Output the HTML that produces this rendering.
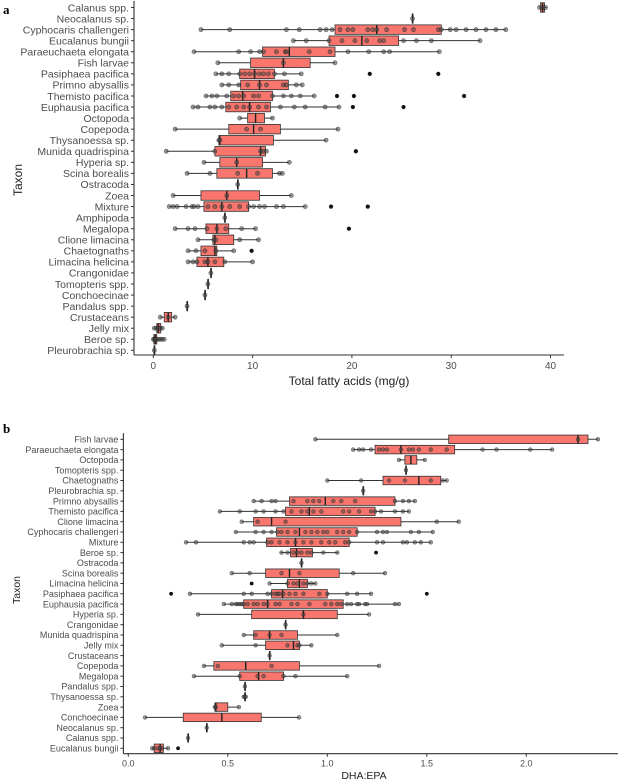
<!DOCTYPE html>
<html><head><meta charset="utf-8">
<style>
html,body{margin:0;padding:0;background:#fff;}
svg{display:block;font-family:"Liberation Sans",Arial,sans-serif;}
</style></head>
<body>
<svg id="chart" width="618" height="781" viewBox="0 0 618 781" xmlns="http://www.w3.org/2000/svg">
<text x="3" y="14" font-family="Liberation Serif" font-weight="bold" font-size="13">a</text>
<text x="3" y="433" font-family="Liberation Serif" font-weight="bold" font-size="13">b</text>
<g id="pa"></g>
<g id="pb"></g>
</svg>
<script>
// ---------- Panel A data (Total fatty acids mg/g) ----------
const namesA=["Calanus spp.","Neocalanus sp.","Cyphocaris challengeri","Eucalanus bungii","Paraeuchaeta elongata","Fish larvae","Pasiphaea pacifica","Primno abysallis","Themisto pacifica","Euphausia pacifica","Octopoda","Copepoda","Thysanoessa sp.","Munida quadrispina","Hyperia sp.","Scina borealis","Ostracoda","Zoea","Mixture","Amphipoda","Megalopa","Clione limacina","Chaetognaths","Limacina helicina","Crangonidae","Tomopteris spp.","Conchoecinae","Pandalus spp.","Crustaceans","Jelly mix","Beroe sp.","Pleurobrachia sp."];
const loA=[38.9,26.1,4.8,14.1,4.1,6.5,6.3,6.9,5.3,4.0,8.7,2.2,6.6,1.3,5.1,3.4,8.5,2.0,1.6,7.2,2.2,4.5,3.5,3.5,5.8,5.5,5.2,3.4,0.7,0.1,0,0.1];
const q1A=[39.0,26.1,18.3,17.7,11.0,9.8,8.7,8.8,7.8,7.3,9.5,7.6,6.6,6.2,6.7,6.4,8.5,4.8,5.1,7.2,5.3,6.0,4.8,4.4,5.8,5.5,5.2,3.4,1.1,0.35,0.05,0.1];
const medA=[39.2,26.1,22.5,21.0,13.7,13.1,10.2,10.7,9.0,9.7,10.3,10.1,6.7,10.8,8.4,9.4,8.5,7.4,6.9,7.2,6.4,6.2,6.2,5.5,5.8,5.5,5.2,3.4,1.5,0.5,0.2,0.1];
const q3A=[39.4,26.1,29.0,24.7,18.3,15.8,12.2,13.6,12.0,11.8,11.2,12.8,12.1,11.3,11.0,12.0,8.5,10.7,9.6,7.2,7.6,8.1,6.4,7.1,5.8,5.5,5.2,3.4,1.85,0.75,0.35,0.1];
const hiA=[39.6,26.1,35.5,32.9,28.8,18.3,14.9,15.0,16.2,18.7,12.0,18.6,17.4,11.4,13.7,13.0,8.5,13.9,15.3,7.2,10.3,10.6,8.1,10.0,5.8,5.5,5.2,3.4,2.2,0.95,1.1,0.1];
const ptsA=[[38.9,39.2,39.5],[26.1],[4.8,7.7,13.4,14.7,16.8,17.4,18,18.8,19.6,20.1,21.6,22.1,22.5,23.5,25.3,26.2,28.7,29,29.9,30.5,31.5,32.5,33.5,34.5,35.5],[14.1,15.4,17.7,19,20.3,21.5,22.8,23.2,25.2,26.5,28.0,32.9],[4.1,8.6,9.8,10.7,11.1,12.4,13.3,13.4,15.7,17.8,19.6,21.7,23.2,23.8,28.8],[6.5,13.1,18.3],[6.3,6.9,7.6,8.7,9.2,9.7,10.2,10.7,11.1,11.6,12.2,13.2,14.9],[6.9,7.6,8.6,9.5,10.7,11.4,13.1,13.4,14.4,15.0],[5.3,5.9,6.4,7.4,8.1,8.6,9.1,10.1,10.6,12.0,13.1,13.9,14.8,16.2],[4.0,4.5,5.7,6.2,6.9,7.6,8.4,9.1,9.7,10.6,11.4,12.8,14.2,15.3,17.3,18.7],[8.7,12.0],[2.2,9.4,10.8,18.6],[6.6,6.7,17.4],[1.3,6.2,10.8,11.1,11.4],[5.1,8.4,13.7],[3.4,5.7,8.5,10.5,12.7,13.0],[8.5],[2.0,7.4,13.9],[1.6,2.0,2.4,3.3,3.9,4.1,4.5,5.5,6.2,6.9,7.7,8.7,9.6,10.1,10.7,11.2,12.4,13.1,15.3],[7.2],[2.2,3.5,4.2,5.4,6.4,7.3,8.9,10.3],[4.5,6.1,6.3,8.7,10.6],[3.5,4.3,5.2,6.3,8.1],[3.5,4.0,4.4,5.2,5.5,6.2,7.2,10.0],[5.8],[5.5],[5.2],[3.4],[0.7,1.5,2.2],[0.1,0.3,0.5,0.7,0.9],[0,0.1,0.2,0.3,0.5,0.7,0.9,1.1],[0.1]];
const outA=[[],[],[],[],[],[],[21.8,28.7],[],[18.5,20.2,31.3],[20.1,25.2],[],[],[],[20.4],[],[],[],[],[17.9,21.6],[],[19.7],[],[9.9],[],[],[],[],[],[],[],[],[]];
const ticksA=[0,10,20,30,40];

// ---------- Panel B data (DHA:EPA) ----------
const namesB=["Fish larvae","Paraeuchaeta elongata","Octopoda","Tomopteris spp.","Chaetognaths","Pleurobrachia sp.","Primno abysallis","Themisto pacifica","Clione limacina","Cyphocaris challengeri","Mixture","Beroe sp.","Ostracoda","Scina borealis","Limacina helicina","Pasiphaea pacifica","Euphausia pacifica","Hyperia sp.","Crangonidae","Munida quadrispina","Jelly mix","Crustaceans","Copepoda","Megalopa","Pandalus spp.","Thysanoessa sp.","Zoea","Conchoecinae","Neocalanus sp.","Calanus spp.","Eucalanus bungii"];
const loB=[0.94,1.13,1.36,1.395,1.0,1.18,0.63,0.46,0.57,0.54,0.29,0.765,0.87,0.52,0.71,0.31,0.48,0.35,0.79,0.58,0.47,0.71,0.38,0.33,0.586,0.586,0.435,0.084,0.394,0.30,0.12];
const q1B=[1.61,1.24,1.39,1.395,1.28,1.18,0.81,0.79,0.63,0.745,0.695,0.815,0.87,0.69,0.80,0.72,0.58,0.62,0.79,0.63,0.69,0.71,0.43,0.56,0.586,0.586,0.435,0.276,0.394,0.30,0.13];
const medB=[2.26,1.37,1.42,1.395,1.46,1.18,0.99,0.91,0.72,0.86,0.84,0.845,0.87,0.81,0.86,0.775,0.70,0.88,0.79,0.71,0.83,0.71,0.59,0.655,0.586,0.586,0.44,0.47,0.394,0.30,0.16];
const q3B=[2.31,1.64,1.45,1.395,1.57,1.18,1.34,1.24,1.37,1.15,1.11,0.925,0.87,1.06,0.90,1.0,1.08,1.05,0.79,0.85,0.86,0.71,0.86,0.78,0.586,0.586,0.50,0.668,0.394,0.30,0.176];
const hiB=[2.36,2.13,1.49,1.395,1.60,1.18,1.44,1.41,1.66,1.53,1.52,1.055,0.87,1.29,0.94,1.22,1.36,1.21,0.79,1.05,0.92,0.71,1.26,1.10,0.586,0.586,0.556,0.858,0.394,0.30,0.2];
const ptsB=[[0.94,2.26,2.36],[1.13,1.16,1.18,1.22,1.26,1.28,1.30,1.37,1.41,1.43,1.46,1.52,1.60,1.78,1.85,2.02,2.13],[1.36,1.49],[1.395],[1.0,1.17,1.31,1.39,1.52,1.58,1.60],[1.18],[0.63,0.67,0.72,0.74,0.83,0.90,0.93,0.96,1.03,1.07,1.14,1.34,1.38,1.41,1.44],[0.46,0.56,0.64,0.68,0.74,0.78,0.82,0.87,0.90,0.93,0.97,1.08,1.11,1.16,1.22,1.24,1.27,1.34,1.38,1.41],[0.57,0.65,0.79,1.55,1.66],[0.54,0.64,0.68,0.72,0.75,0.77,0.80,0.84,0.89,0.92,0.95,0.98,1.0,1.05,1.08,1.11,1.15,1.25,1.28,1.30,1.42,1.46,1.53],[0.29,0.34,0.58,0.61,0.63,0.70,0.72,0.76,0.80,0.84,0.88,0.92,0.97,1.01,1.04,1.09,1.11,1.25,1.28,1.38,1.40,1.44,1.47,1.52],[0.77,0.80,0.83,0.85,0.87,0.90,0.92,0.98,1.05],[0.87],[0.52,0.61,0.77,0.86,1.13,1.29],[0.71,0.80,0.83,0.85,0.88,0.90,0.92,0.94],[0.31,0.58,0.62,0.70,0.72,0.74,0.75,0.76,0.78,0.81,0.84,0.88,0.96,1.0,1.10,1.15,1.22],[0.48,0.52,0.54,0.55,0.56,0.57,0.58,0.60,0.63,0.65,0.68,0.70,0.74,0.76,0.82,0.85,0.91,0.99,1.02,1.05,1.07,1.10,1.12,1.15,1.16,1.19,1.20,1.34,1.36],[0.35,0.88,1.21],[0.79],[0.58,0.64,0.71,0.77,1.05],[0.47,0.64,0.80,0.85,0.86,0.92],[0.71],[0.38,0.45,0.72,1.26],[0.33,0.56,0.65,0.68,0.78,0.84,1.10],[0.586],[0.58,0.586,0.59],[0.435,0.44,0.556],[0.084,0.858],[0.394],[0.30],[0.12,0.13,0.15,0.16,0.17,0.2]];
const outB=[[],[],[],[],[],[],[],[],[],[],[],[1.245],[],[],[0.62],[0.215,1.5],[],[],[],[],[],[],[],[],[],[],[],[],[],[],[0.25]];
const ticksB=[0,0.5,1.0,1.5,2.0];

const NS="http://www.w3.org/2000/svg";
function mk(parent,tag,attrs){const e=document.createElementNS(NS,tag);for(const k in attrs)e.setAttribute(k,attrs[k]);parent.appendChild(e);return e;}

function drawPanel(g,cfg,names,lo,q1,med,q3,hi,pts,outs,ticks){
  const x=v=>cfg.x0+v*cfg.k;
  const y=i=>cfg.yTop+i*cfg.dy;
  // axes
  const ya=mk(g,'line',{x1:cfg.axX,x2:cfg.axX,y1:cfg.yTop-cfg.dy*0.6,y2:cfg.axY,stroke:'#333','stroke-width':1.1});
  
  const xa=mk(g,'line',{x1:cfg.axX,x2:cfg.axR,y1:cfg.axY,y2:cfg.axY,stroke:'#333','stroke-width':1.1});
  
  ticks.forEach(t=>{
    const tl=mk(g,'line',{x1:x(t),x2:x(t),y1:cfg.axY,y2:cfg.axY+3,stroke:'#333','stroke-width':1});
    
    const tt=mk(g,'text',{x:x(t),y:cfg.axY+cfg.tickFs+4,'font-size':cfg.tickFs,fill:'#4d4d4d','text-anchor':'middle'});
    tt.textContent=cfg.fmt(t);
    
  });
  names.forEach((n,i)=>{
    const yy=y(i);
    const tk=mk(g,'line',{x1:cfg.axX-3,x2:cfg.axX,y1:yy,y2:yy,stroke:'#333','stroke-width':1});
    
    const lb=mk(g,'text',{x:cfg.axX-5,y:yy+cfg.labFs*0.36,'font-size':cfg.labFs,fill:'#4d4d4d','text-anchor':'end'});
    lb.textContent=n;
    
    const h=cfg.boxH;
    const wl=mk(g,'line',{x1:x(lo[i]),x2:x(hi[i]),y1:yy,y2:yy,stroke:'#333','stroke-width':1});
    
    const bx=mk(g,'rect',{x:x(q1[i]),y:yy-h/2,width:Math.max(0.6,x(q3[i])-x(q1[i])),height:h,fill:'#f8766d',stroke:'#333','stroke-width':0.8});
    
    const md=mk(g,'line',{x1:x(med[i]),x2:x(med[i]),y1:yy-h/2,y2:yy+h/2,stroke:'#222','stroke-width':1.4});
    
    pts[i].forEach(v=>{
      const c=mk(g,'circle',{cx:x(v),cy:yy,r:cfg.r,fill:'#444','fill-opacity':0.55,stroke:'#222','stroke-opacity':0.6,'stroke-width':0.6});
      
    });
    outs[i].forEach(v=>{
      const c=mk(g,'circle',{cx:x(v),cy:yy,r:cfg.r,fill:'#111'});
      
    });
  });
  const xt=mk(g,'text',{x:cfg.xTitleX,y:cfg.xTitleY,'font-size':cfg.titleFs,fill:'#222','text-anchor':'middle'});
  xt.textContent=cfg.xTitle;
  
  const ytl=mk(g,'text',{x:0,y:0,'font-size':cfg.titleFs,fill:'#222','text-anchor':'middle',transform:`translate(${cfg.yTitleX},${cfg.yTitleY}) rotate(-90)`});
  ytl.textContent='Taxon';
  
}

drawPanel(document.getElementById('pa'),{x0:153.3,k:9.93,yTop:7.5,dy:11.06,axX:134,axY:355,axR:564,boxH:9.5,r:2.1,labFs:10.5,tickFs:10,titleFs:12,fmt:t=>String(t),xTitle:'Total fatty acids (mg/g)',xTitleX:349,xTitleY:385,yTitleX:22,yTitleY:180},
  namesA,loA,q1A,medA,q3A,hiA,ptsA,outA,ticksA);
drawPanel(document.getElementById('pb'),{x0:128.3,k:199,yTop:439.3,dy:10.3,axX:123.4,axY:753.7,axR:618,boxH:8.5,r:1.9,labFs:9,tickFs:9,titleFs:10.5,fmt:t=>t.toFixed(1),xTitle:'DHA:EPA',xTitleX:364,xTitleY:779,yTitleX:20,yTitleY:590},
  namesB,loB,q1B,medB,q3B,hiB,ptsB,outB,ticksB);
</script>
</body></html>
